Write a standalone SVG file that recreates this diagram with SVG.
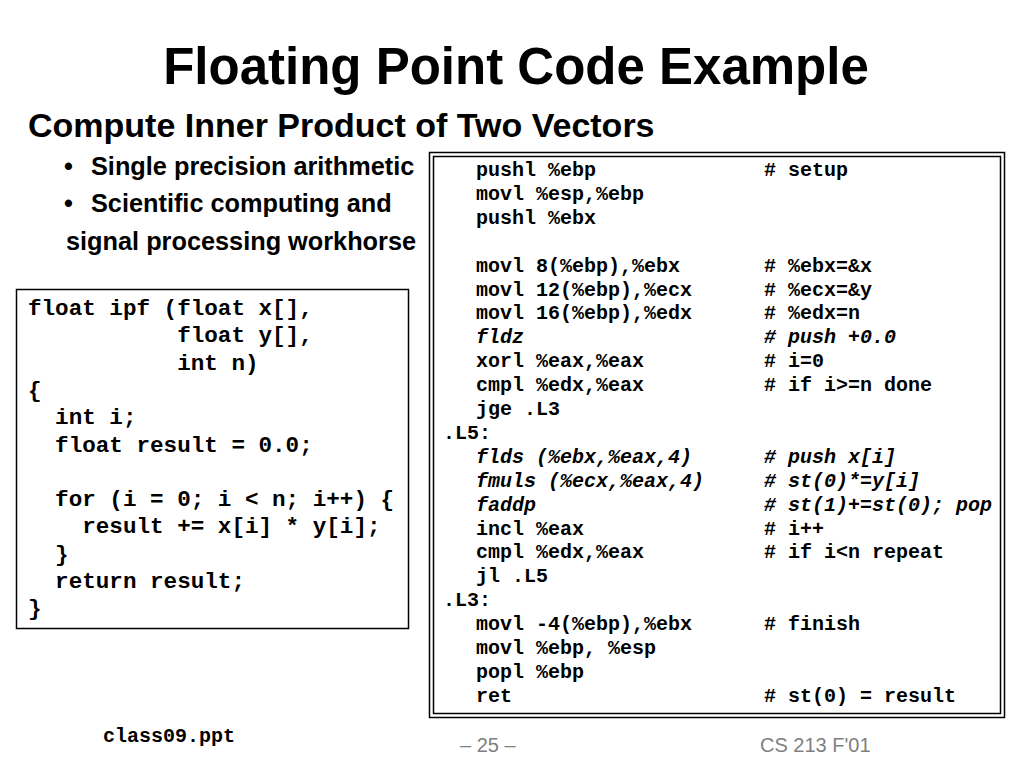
<svg xmlns="http://www.w3.org/2000/svg" width="1024" height="768" viewBox="0 0 1024 768">
<style>
.title{font-family:"Liberation Sans",Arial,sans-serif;font-weight:bold;fill:#000}
.mono{font-family:"Liberation Mono","Courier New",monospace;font-weight:bold;fill:#000;white-space:pre}
.asm{font-size:20px}
.c{font-size:22.6px}
.it{font-style:italic}
.foot{font-family:"Liberation Sans",Arial,sans-serif;font-size:20px;fill:#7f7f7f}
</style>
<rect width="1024" height="768" fill="#fff"/>
<text class="title" x="516" y="84" font-size="51" text-anchor="middle">Floating Point Code Example</text>
<text class="title" x="28" y="137" font-size="34">Compute Inner Product of Two Vectors</text>
<g class="title" font-size="25.3">
<text x="64" y="175">•</text><text x="91" y="175">Single precision arithmetic</text>
<text x="64" y="212">•</text><text x="91" y="212">Scientific computing and</text>
<text x="66" y="250">signal processing workhorse</text>
</g>
<g id="c-code">
<rect x="16.5" y="289.5" width="392" height="339" fill="#fff" stroke="#000" stroke-width="1.5"/>
<text class="mono c" xml:space="preserve"><tspan x="28" y="315">float ipf (float x[],</tspan><tspan x="28" y="342.3">           float y[],</tspan><tspan x="28" y="369.6">           int n)</tspan><tspan x="28" y="396.9">{</tspan><tspan x="28" y="424.2">  int i;</tspan><tspan x="28" y="451.5">  float result = 0.0;</tspan><tspan x="28" y="506.1">  for (i = 0; i &lt; n; i++) {</tspan><tspan x="28" y="533.4">    result += x[i] * y[i];</tspan><tspan x="28" y="560.7">  }</tspan><tspan x="28" y="588">  return result;</tspan><tspan x="28" y="615.3">}</tspan></text>
</g>
<g id="asm-code">
<rect x="429.5" y="152.5" width="575" height="565" fill="#fff" stroke="#000" stroke-width="1.5"/>
<rect x="433.5" y="156.5" width="567" height="557" fill="none" stroke="#000" stroke-width="1.5"/>
<g class="mono asm" xml:space="preserve">
<text x="476" y="176">pushl %ebp</text><text x="764" y="176"># setup</text>
<text x="476" y="199.9">movl %esp,%ebp</text>
<text x="476" y="223.8">pushl %ebx</text>
<text x="476" y="271.6">movl 8(%ebp),%ebx</text><text x="764" y="271.6"># %ebx=&amp;x</text>
<text x="476" y="295.5">movl 12(%ebp),%ecx</text><text x="764" y="295.5"># %ecx=&amp;y</text>
<text x="476" y="319.4">movl 16(%ebp),%edx</text><text x="764" y="319.4"># %edx=n</text>
<text class="it" x="476" y="343.3">fldz</text><text class="it" x="764" y="343.3"># push +0.0</text>
<text x="476" y="367.2">xorl %eax,%eax</text><text x="764" y="367.2"># i=0</text>
<text x="476" y="391.1">cmpl %edx,%eax</text><text x="764" y="391.1"># if i&gt;=n done</text>
<text x="476" y="415">jge .L3</text>
<text x="443" y="438.9">.L5:</text>
<text class="it" x="476" y="462.8">flds (%ebx,%eax,4)</text><text class="it" x="764" y="462.8"># push x[i]</text>
<text class="it" x="476" y="486.7">fmuls (%ecx,%eax,4)</text><text class="it" x="764" y="486.7"># st(0)*=y[i]</text>
<text class="it" x="476" y="510.6">faddp</text><text class="it" x="764" y="510.6"># st(1)+=st(0); pop</text>
<text x="476" y="534.5">incl %eax</text><text x="764" y="534.5"># i++</text>
<text x="476" y="558.4">cmpl %edx,%eax</text><text x="764" y="558.4"># if i&lt;n repeat</text>
<text x="476" y="582.3">jl .L5</text>
<text x="443" y="606.2">.L3:</text>
<text x="476" y="630.1">movl -4(%ebp),%ebx</text><text x="764" y="630.1"># finish</text>
<text x="476" y="654">movl %ebp, %esp</text>
<text x="476" y="677.9">popl %ebp</text>
<text x="476" y="701.8">ret</text><text x="764" y="701.8"># st(0) = result</text>
</g>
</g>
<text class="mono" x="103" y="742" font-size="20">class09.ppt</text>
<text class="foot" x="460" y="752">– 25 –</text>
<text class="foot" x="760" y="752">CS 213 F'01</text>
</svg>
